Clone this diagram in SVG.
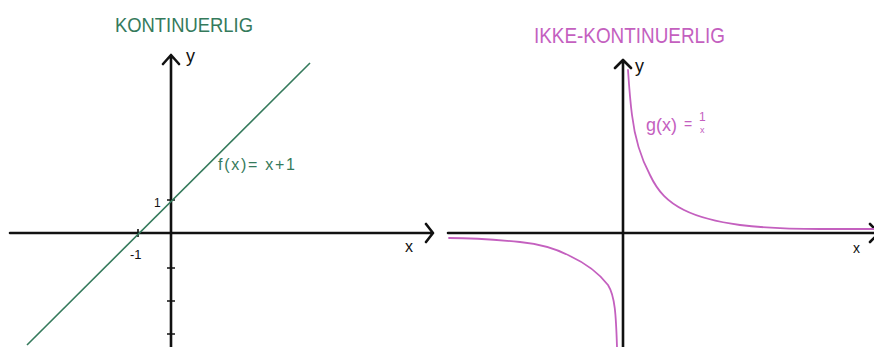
<svg xmlns="http://www.w3.org/2000/svg" width="874" height="347" viewBox="0 0 874 347">
<style>
.ax{stroke:#111;stroke-width:2.6;fill:none;stroke-linecap:round;stroke-linejoin:round}
.tk{stroke:#111;stroke-width:1.6;fill:none}
.g{stroke:#357a5c;stroke-width:1.6;fill:none}
.p{stroke:#c460bf;stroke-width:1.8;fill:none;stroke-linecap:round;stroke-linejoin:round}
text{font-family:"Liberation Sans",Arial,sans-serif}
.tg{fill:#357a5c}
.tp{fill:#c460bf}
.tb{fill:#111}
</style>
<rect width="874" height="347" fill="#fff"/>
<g id="left-panel">
  <g id="left-title"><text class="tg" x="115" y="32" font-size="20" textLength="138" lengthAdjust="spacingAndGlyphs">KONTINUERLIG</text></g>
  <g id="left-axes">
    <path class="ax" d="M171 347 V56 M163 64 L171 55 L179 64"/>
    <path class="ax" d="M10 233 H432 M426 224 L433 233 L426 242"/>
    <path class="tk" d="M167 200 H175 M167 268 H175 M167 301 H175 M167 334 H175 M138 229 V237"/>
    <text class="tb" x="186" y="62" font-size="18">y</text>
    <text class="tb" x="405" y="252" font-size="16">x</text>
    <text class="tb" x="154" y="207" font-size="12">1</text>
    <text class="tb" x="130" y="259" font-size="13">-1</text>
  </g>
  <g id="line-f">
    <path class="g" d="M27 345 L310 63"/>
    <text class="tg" x="218" y="170" font-size="16" textLength="77" lengthAdjust="spacing">f(x)= x+1</text>
  </g>
</g>
<g id="right-panel">
  <g id="right-title"><text class="tp" x="534" y="43" font-size="22" textLength="191" lengthAdjust="spacingAndGlyphs">IKKE-KONTINUERLIG</text></g>
  <g id="right-axes">
    <path class="ax" d="M623 347 V61 M615 68 L623 60 L631 68"/>
    <path class="ax" d="M448 233 H874 M870 224 L879 233 L870 242"/>
    <text class="tb" x="635" y="72" font-size="18">y</text>
    <text class="tb" x="853" y="253" font-size="14">x</text>
  </g>
  <g id="curve-g">
    <path class="p" d="M628 70 C629 85 630 100 632 115 C635 140 642 160 650 175 C658 192 668 202 684 210 C700 218 718 222 740 225 C765 228 790 229 820 229 L874 229"/>
    <path class="p" d="M449 238 C470 238 500 240 520 242 C540 244 555 248 570 256 C585 263 598 272 608 285 C615 296 616 315 617 347"/>
    <text class="tp" x="646" y="131" font-size="18">g(x)</text>
    <text class="tp" x="684" y="129" font-size="14">=</text>
    <text class="tp" x="699" y="121" font-size="12">1</text>
    <text class="tp" x="700" y="133" font-size="9">x</text>
  </g>
</g>
</svg>
